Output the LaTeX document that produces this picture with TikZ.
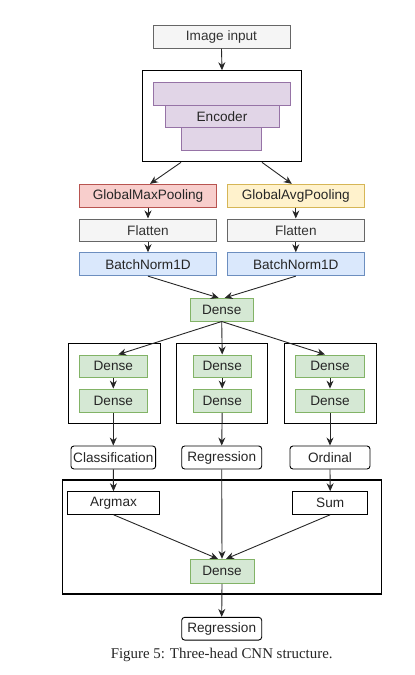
\documentclass[tikz,border=0pt]{standalone}
\usepackage{fontspec}
\setmainfont{Liberation Serif}
\setsansfont{Liberation Sans}
\usetikzlibrary{arrows.meta}
\definecolor{grayF}{HTML}{F5F5F5}
\definecolor{grayD}{HTML}{666666}
\definecolor{grayT}{HTML}{333333}
\definecolor{purF}{HTML}{E1D5E7}
\definecolor{purD}{HTML}{9673A6}
\definecolor{redF}{HTML}{F8CECC}
\definecolor{redD}{HTML}{B85450}
\definecolor{yelF}{HTML}{FFF2CC}
\definecolor{yelD}{HTML}{D6B656}
\definecolor{bluF}{HTML}{DAE8FC}
\definecolor{bluD}{HTML}{6C8EBF}
\definecolor{grnF}{HTML}{D5E8D4}
\definecolor{grnD}{HTML}{82B366}
\tikzset{
  base/.style={draw, line width=0.9pt, inner sep=0pt, font=\sffamily\fontsize{13.6}{15}\selectfont, text=black!85},
  graybox/.style={base, fill=grayF, draw=grayD, text=grayT},
  purbox/.style={base, fill=purF, draw=purD},
  redbox/.style={base, fill=redF, draw=redD},
  yelbox/.style={base, fill=yelF, draw=yelD},
  blubox/.style={base, fill=bluF, draw=bluD},
  grnbox/.style={base, fill=grnF, draw=grnD},
  outbox/.style={base, draw=black, fill=white, rounded corners=3pt},
  plainbox/.style={base, draw=black, fill=white},
  frame/.style={draw=black, line width=1.1pt, inner sep=0pt},
  arr/.style={-{Stealth[length=8pt,width=7pt]}, line width=0.9pt, black!85},
}
\begin{document}
\begin{tikzpicture}[x=1pt,y=-1pt]
\useasboundingbox (0,0) rectangle (415,675);
% top
\node[graybox, minimum width=137pt, minimum height=22.5pt] (img) at (221.5,37) {Image input};
\node[frame, minimum width=159.5pt, minimum height=91pt] (encbox) at (222,116.3) {};
\node[purbox, minimum width=136.7pt, minimum height=22.7pt] (enc1) at (221.7,93.7) {};
\node[purbox, minimum width=114pt, minimum height=22.7pt] (enc2) at (222,116.4) {Encoder};
\node[purbox, minimum width=80pt, minimum height=23pt] (enc3) at (221.7,139.2) {};
% two branches
\node[redbox, minimum width=137.4pt, minimum height=23pt] (gmp) at (148,195.8) {GlobalMaxPooling};
\node[yelbox, minimum width=137pt, minimum height=23pt] (gap) at (295.8,195.8) {GlobalAvgPooling};
\node[graybox, minimum width=137.4pt, minimum height=22.7pt] (fl1) at (148,230.3) {Flatten};
\node[graybox, minimum width=137pt, minimum height=22.7pt] (fl2) at (295.8,230.3) {Flatten};
\node[blubox, minimum width=137.4pt, minimum height=23pt] (bn1) at (148,264.2) {BatchNorm1D};
\node[blubox, minimum width=137pt, minimum height=23pt] (bn2) at (295.8,264.2) {BatchNorm1D};
\node[grnbox, minimum width=63.3pt, minimum height=22.7pt] (dense) at (221.7,309.7) {Dense};
% heads
\node[frame, minimum width=91.7pt, minimum height=80pt] (h1) at (114.2,383.3) {};
\node[frame, minimum width=90.6pt, minimum height=80pt] (h2) at (222,383.3) {};
\node[frame, minimum width=91.7pt, minimum height=80pt] (h3) at (330.2,383.3) {};
\node[grnbox, minimum width=68.7pt, minimum height=22.7pt] (d11) at (113.3,366.3) {Dense};
\node[grnbox, minimum width=68.7pt, minimum height=23.3pt] (d12) at (113.3,400.7) {Dense};
\node[grnbox, minimum width=57.7pt, minimum height=22.7pt] (d21) at (222.2,366.3) {Dense};
\node[grnbox, minimum width=57.7pt, minimum height=23.3pt] (d22) at (222.2,400.7) {Dense};
\node[grnbox, minimum width=68.6pt, minimum height=22.7pt] (d31) at (330,366.3) {Dense};
\node[grnbox, minimum width=68.6pt, minimum height=23.3pt] (d32) at (330,400.7) {Dense};
\node[outbox, minimum width=84.7pt, minimum height=23pt] (cls) at (113.3,457.5) {Classification};
\node[outbox, minimum width=80pt, minimum height=23pt] (reg) at (221.7,457.5) {Regression};
\node[outbox, minimum width=80pt, minimum height=23pt] (ord) at (330,457.5) {Ordinal};
% bottom
\node[frame, minimum width=319.4pt, minimum height=114pt] (bot) at (222,537) {};
\node[plainbox, minimum width=91.6pt, minimum height=22.6pt] (argm) at (113.5,503) {Argmax};
\node[plainbox, minimum width=75pt, minimum height=22.6pt] (sum) at (330.2,503) {Sum};
\node[grnbox, minimum width=64pt, minimum height=24pt] (dense2) at (222,571.3) {Dense};
\node[outbox, minimum width=80pt, minimum height=22.7pt] (final) at (221.7,628.7) {Regression};
\node[font=\fontsize{14.9}{17}\selectfont, text=black!85] (cap) at (221.7,654.5) {Figure 5: Three-head CNN structure.};
% connectors
\draw[arr] (img.south) -- (encbox.north);
\draw[arr] ([xshift=-41pt]encbox.south) -- ([xshift=2pt]gmp.north);
\draw[arr] ([xshift=40pt]encbox.south) -- ([xshift=-4pt]gap.north);
\draw[arr] (gmp.south) -- (fl1.north);
\draw[arr] (gap.south) -- (fl2.north);
\draw[arr] (fl1.south) -- (bn1.north);
\draw[arr] (fl2.south) -- (bn2.north);
\draw[arr] (bn1.south) -- ([xshift=-3pt]dense.north);
\draw[arr] (bn2.south) -- ([xshift=3pt]dense.north);
\draw[arr] (dense.south) -- ([xshift=5pt]d11.north);
\draw[arr] (dense.south) -- (d21.north);
\draw[arr] (dense.south) -- ([xshift=-5pt]d31.north);
\draw[arr] (d11.south) -- (d12.north);
\draw[arr] (d21.south) -- (d22.north);
\draw[arr] (d31.south) -- (d32.north);
\draw[arr] (d12.south) -- (cls.north);
\draw[arr] (d22.south) -- (reg.north);
\draw[arr] (d32.south) -- (ord.north);
\draw[arr] (cls.south) -- (argm.north);
\draw[arr] (ord.south) -- (sum.north);
\draw[arr] (reg.south) -- (dense2.north);
\draw[arr] (argm.south) -- ([xshift=-4pt]dense2.north);
\draw[arr] (sum.south) -- ([xshift=4pt]dense2.north);
\draw[arr] (dense2.south) -- (final.north);
\end{tikzpicture}
\end{document}
